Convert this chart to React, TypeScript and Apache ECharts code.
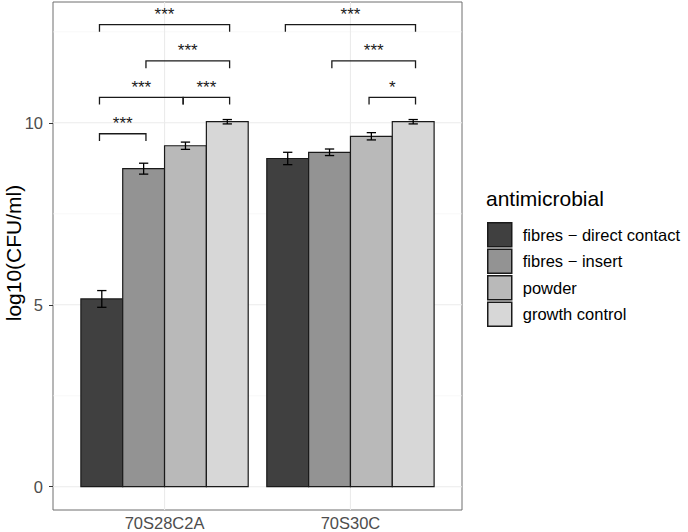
import { useEffect, useRef } from 'react';
import * as echarts from 'echarts';

const CATEGORIES = ['70S28C2A', '70S30C'];
const GROUPS = ['fibres − direct contact', 'fibres − insert', 'powder', 'growth control'];
const FILLS = ['#404040', '#939393', '#b9b9b9', '#d7d7d7'];

// log10(CFU/ml) per category, with error half-widths
const DIRECT_CONTACT = [5.16, 9.02];
const DIRECT_CONTACT_ERR = [0.23, 0.17];
const INSERT = [8.74, 9.19];
const INSERT_ERR = [0.15, 0.09];
const POWDER = [9.37, 9.63];
const POWDER_ERR = [0.1, 0.1];
const GROWTH = [10.03, 10.03];
const GROWTH_ERR = [0.06, 0.06];

const VALUES = [DIRECT_CONTACT, INSERT, POWDER, GROWTH];
const ERRORS = [DIRECT_CONTACT_ERR, INSERT_ERR, POWDER_ERR, GROWTH_ERR];

// significance brackets
const BRACKET_X1 = [0.65, 0.9, 0.65, 1.1, 0.65, 1.65, 1.9, 2.1];
const BRACKET_X2 = [1.35, 1.35, 1.1, 1.35, 0.9, 2.35, 2.35, 2.35];
const BRACKET_Y = [12.7, 11.7, 10.7, 10.7, 9.7, 12.7, 11.7, 10.7];
const BRACKET_LABEL = ['***', '***', '***', '***', '***', '***', '***', '*'];

const Y_TICKS = [0, 5, 10];
const GRID_MINOR_Y = [2.5, 7.5, 12.5];
const X_TICKS = [1, 2];

const BAR_W = 0.225;
const CAP_W = 0.05;
const TICK_DROP = 0.2;
const FONT = '"Liberation Sans", Arial, Helvetica, sans-serif';

export default function App() {
  const chartRef = useRef<HTMLDivElement>(null);

  useEffect(() => {
    document.body.style.margin = '0';
    if (!chartRef.current) return;
    const chart = echarts.init(chartRef.current, undefined, { renderer: 'svg' });

    const gridData = [
      ...Y_TICKS.map((v) => [0, v, 1]),
      ...GRID_MINOR_Y.map((v) => [0, v, 0]),
      ...X_TICKS.map((v) => [1, v, 1]),
    ];

    const barSeries = GROUPS.map((name, i) => ({
      name,
      type: 'custom',
      z: 2,
      itemStyle: { color: FILLS[i], borderColor: '#1a1a1a', borderWidth: 1.2 },
      encode: { x: 0, y: 1 },
      data: CATEGORIES.map((_, c) => [c + 1, VALUES[i][c], ERRORS[i][c]]),
      renderItem: (_params: any, api: any) => {
        const x = api.value(0) + (i - 1.5) * BAR_W;
        const v = api.value(1);
        const e = api.value(2);
        const tl = api.coord([x - BAR_W / 2, v]);
        const br = api.coord([x + BAR_W / 2, 0]);
        const hi = api.coord([x, v + e]);
        const lo = api.coord([x, v - e]);
        const half = api.size([CAP_W, 0])[0] / 2;
        const line = { stroke: '#000', lineWidth: 1.3 };
        return {
          type: 'group',
          children: [
            {
              type: 'rect',
              shape: { x: tl[0], y: tl[1], width: br[0] - tl[0], height: br[1] - tl[1] },
              style: { fill: FILLS[i], stroke: '#1a1a1a', lineWidth: 1.2 },
            },
            { type: 'line', shape: { x1: hi[0], y1: hi[1], x2: lo[0], y2: lo[1] }, style: line },
            { type: 'line', shape: { x1: hi[0] - half, y1: hi[1], x2: hi[0] + half, y2: hi[1] }, style: line },
            { type: 'line', shape: { x1: lo[0] - half, y1: lo[1], x2: lo[0] + half, y2: lo[1] }, style: line },
          ],
        };
      },
    }));

    chart.setOption({
      animation: false,
      textStyle: { fontFamily: FONT },
      grid: {
        left: 53,
        right: 226,
        top: 2,
        bottom: 22,
        containLabel: false,
        outerBoundsMode: 'none',
        show: true,
        borderColor: '#6e6e6e',
        borderWidth: 1,
        backgroundColor: '#fff',
      },
      title: {
        text: 'antimicrobial',
        left: 486,
        top: 188,
        padding: 0,
        textStyle: { fontFamily: FONT, fontSize: 21, fontWeight: 'normal', color: '#000' },
      },
      graphic: [
        {
          type: 'text',
          x: 13,
          y: 253,
          rotation: Math.PI / 2,
          style: {
            text: 'log10(CFU/ml)',
            fontFamily: FONT,
            fontSize: 21,
            fill: '#000',
            align: 'center',
            verticalAlign: 'middle',
          },
        },
      ],
      legend: {
        orient: 'vertical',
        left: 487,
        top: 222,
        padding: 0,
        itemWidth: 24,
        itemHeight: 24,
        itemGap: 1,
        icon: 'rect',
        selectedMode: false,
        data: GROUPS,
        itemStyle: { borderColor: '#1a1a1a', borderWidth: 1.5 },
        textStyle: { fontFamily: FONT, fontSize: 16.5, color: '#000', padding: [0, 0, 0, 6] },
      },
      xAxis: {
        type: 'value',
        min: 0.4,
        max: 2.6,
        axisLine: { show: false },
        splitLine: { show: false },
        axisTick: { show: true, length: 4, customValues: X_TICKS, lineStyle: { color: '#333', width: 1 } },
        axisLabel: {
          customValues: X_TICKS,
          margin: 4,
          fontSize: 16.5,
          color: '#4d4d4d',
          fontFamily: FONT,
          formatter: (v: number) => CATEGORIES[Math.round(v) - 1] ?? '',
        },
      },
      yAxis: {
        type: 'value',
        min: -0.64,
        max: 13.32,
        axisLine: { show: false },
        splitLine: { show: false },
        axisTick: { show: true, length: 4, customValues: Y_TICKS, lineStyle: { color: '#333', width: 1 } },
        axisLabel: {
          customValues: Y_TICKS,
          margin: 10,
          fontSize: 16.5,
          color: '#4d4d4d',
          fontFamily: FONT,
        },
      },
      series: [
        {
          name: 'gridlines',
          type: 'custom',
          z: 1,
          silent: true,
          data: gridData,
          renderItem: (_params: any, api: any) => {
            const horizontal = api.value(0) === 0;
            const v = api.value(1);
            const major = api.value(2) === 1;
            const a = horizontal ? api.coord([0.4, v]) : api.coord([v, -0.64]);
            const b = horizontal ? api.coord([2.6, v]) : api.coord([v, 13.32]);
            return {
              type: 'line',
              shape: { x1: a[0], y1: a[1], x2: b[0], y2: b[1] },
              style: { stroke: major ? '#ebebeb' : '#f4f4f4', lineWidth: major ? 1.1 : 0.6 },
            };
          },
        },
        ...barSeries,
        {
          name: 'brackets',
          type: 'custom',
          z: 3,
          silent: true,
          data: BRACKET_Y.map((y, k) => [BRACKET_X1[k], BRACKET_X2[k], y, k]),
          renderItem: (_params: any, api: any) => {
            const x1 = api.value(0);
            const x2 = api.value(1);
            const y = api.value(2);
            const k = api.value(3);
            const p1 = api.coord([x1, y - TICK_DROP]);
            const p2 = api.coord([x1, y]);
            const p3 = api.coord([x2, y]);
            const p4 = api.coord([x2, y - TICK_DROP]);
            return {
              type: 'group',
              children: [
                {
                  type: 'polyline',
                  shape: { points: [p1, p2, p3, p4] },
                  style: { stroke: '#1a1a1a', lineWidth: 1.3, fill: 'none' },
                },
                {
                  type: 'text',
                  x: (p2[0] + p3[0]) / 2,
                  y: p2[1] - 10,
                  style: {
                    text: BRACKET_LABEL[k],
                    fontFamily: FONT,
                    fontSize: 17,
                    fill: '#1a1a1a',
                    align: 'center',
                    verticalAlign: 'middle',
                  },
                },
              ],
            };
          },
        },
      ],
    });

    return () => {
      chart.dispose();
    };
  }, []);

  return <div ref={chartRef} style={{ width: 688, height: 532 }} />;
}
